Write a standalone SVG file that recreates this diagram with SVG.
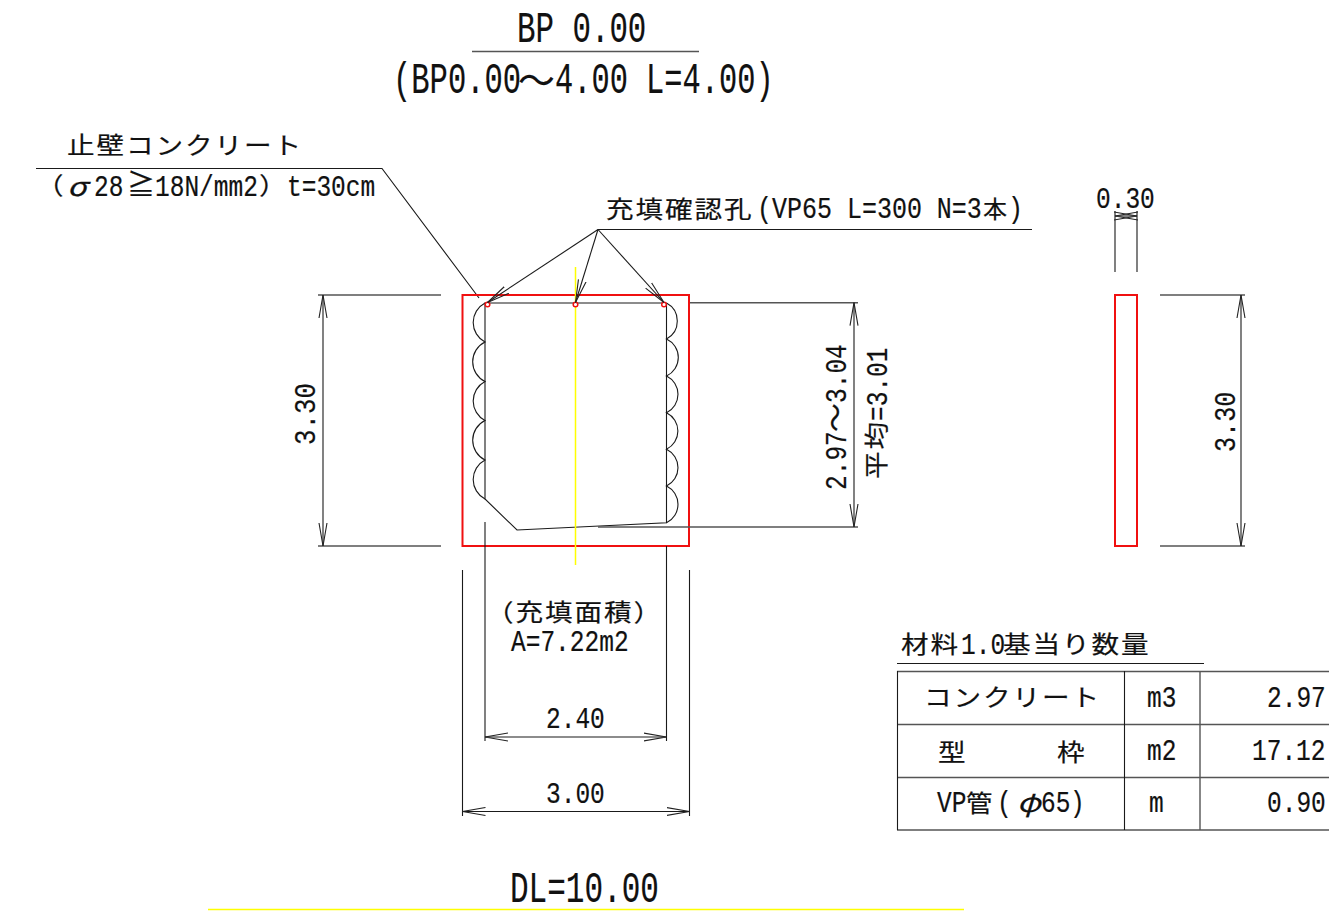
<svg xmlns="http://www.w3.org/2000/svg" width="1329" height="916" viewBox="0 0 1329 916">
<style>
text{fill:#111;stroke:#111;stroke-width:.2}
.s,.b{font-family:"Liberation Mono",monospace}
.s{font-size:30px}.b{font-size:44px}
.j{font-family:"Noto Sans CJK JP","Noto Sans CJK SC",sans-serif;font-size:24px;letter-spacing:1.65px}
.l{stroke:#1a1a1a;stroke-width:1.1;fill:none}
.g{stroke:#555;stroke-width:1.4;fill:none}
.r{stroke:#f01010;stroke-width:2;fill:none}
.c{stroke:#f01010;stroke-width:1.5;fill:#fff}
.y{stroke:#ffff00;stroke-width:1.5;fill:none}
</style>
<defs>
<marker id="a" markerUnits="userSpaceOnUse" markerWidth="26" markerHeight="10" refX="23" refY="5" orient="auto-start-reverse"><path d="M0,1 L23,5 L0,9" fill="none" stroke="#222" stroke-width="1.1"/></marker>
</defs>
<g id="title">
<text class="b" transform="translate(517 42) scale(.7 1)">BP 0.00</text>
<path class="g" d="M472 51.500H699"/>
<text class="b" transform="translate(393 93) scale(.693 1)">(BP0.00</text>
<text class="j" style="font-size:38px" transform="translate(518 94) scale(.97 1)">～</text>
<text class="b" transform="translate(555 93) scale(.69 1)">4.00 L=4.00)</text>
</g>
<g id="wall-note">
<text class="j" transform="translate(67 154) scale(1.15 1)">止壁コンクリート</text>
<path class="l" d="M36 168.500H382L479 298"/>
<text class="j" transform="translate(36 194) scale(1.15 1)">（</text>
<text class="j" font-style="italic" style="font-size:26px" transform="translate(67 196) scale(1.25 1)">σ</text>
<text class="s" transform="translate(94 196) scale(.817 1)">28</text>
<text class="j" style="font-size:28px" transform="translate(127 195)">≧</text>
<text class="s" transform="translate(155 196) scale(.817 1)">18N/mm2</text>
<text class="j" transform="translate(259 194) scale(1.15 1)">）</text>
<text class="s" transform="translate(287 196) scale(.817 1)">t=30cm</text>
</g>
<g id="hole-note">
<text class="j" transform="translate(606 218) scale(1.15 1)">充填確認孔</text>
<text class="s" transform="translate(757 218) scale(.833 1)">(VP65 L=300 N=3</text>
<text class="j" style="letter-spacing:0" transform="translate(983 218)">本</text>
<text class="s" transform="translate(1008 218) scale(.833 1)">)</text>
</g>
<g id="front-view">
<rect class="r" x="462.500" y="295" width="226.500" height="251"/>
<path class="l" d="M666.500 303H485V499L517 530L666.500 522.700V303"/>
<path class="l" d="M485 303A22 22 0 0 0 485 342A22 22 0 0 0 485 381.500A22 22 0 0 0 485 420.500A22 22 0 0 0 485 460A22 22 0 0 0 485 499"/>
<path class="l" d="M666.500 303A20.400 20.400 0 0 1 666.500 339A20.400 20.400 0 0 1 666.500 376A20.400 20.400 0 0 1 666.500 412.700A20.400 20.400 0 0 1 666.500 449.300A20.400 20.400 0 0 1 666.500 486A20.400 20.400 0 0 1 666.500 522.700"/>
<path class="y" d="M575.500 267V565"/>
<circle class="c" cx="487.500" cy="304.500" r="2.300"/>
<circle class="c" cx="575.500" cy="304.500" r="2.300"/>
<circle class="c" cx="664" cy="304.500" r="2.300"/>
</g>
<g id="side-view">
<rect class="r" x="1115" y="295" width="22" height="251"/>
</g>
<g id="connectors">
<path class="l" d="M1032 229.500H598"/>
<path class="l" d="M598 229.500L487.500 302.500" marker-end="url(#a)"/>
<path class="l" d="M598 229.500L575.500 302.500" marker-end="url(#a)"/>
<path class="l" d="M598 229.500L664 302.500" marker-end="url(#a)"/>
<path class="g" d="M318 295H441M318 546H441"/>
<path class="l" d="M323 295V546" marker-start="url(#a)" marker-end="url(#a)"/>
<path class="g" d="M1160 295H1245M1160 546H1245"/>
<path class="l" d="M1241 295V546" marker-start="url(#a)" marker-end="url(#a)"/>
<path class="g" d="M690 302.700H858M598 527H858"/>
<path class="l" d="M854 302.700V527" marker-start="url(#a)" marker-end="url(#a)"/>
<path class="l" d="M485 522V741M666.500 546V741"/>
<path class="l" d="M485 737H666.500" marker-start="url(#a)" marker-end="url(#a)"/>
<path class="l" d="M462.500 570V816M689.500 570V816"/>
<path class="l" d="M462.500 811.500H689.500" marker-start="url(#a)" marker-end="url(#a)"/>
<path class="l" d="M1115 272V211M1137 272V211"/>
<path class="l" d="M1115 216H1137" marker-start="url(#a)" marker-end="url(#a)"/>
</g>
<g id="dimensions">
<text class="s" transform="translate(1096 208) scale(.817 1)">0.30</text>
<text class="s" transform="translate(315 445) rotate(-90) scale(.86 1)">3.30</text>
<text class="s" transform="translate(1235 452) rotate(-90) scale(.84 1)">3.30</text>
<text class="s" transform="translate(846 490) rotate(-90) scale(.817 1)">2.97</text>
<text class="j" style="font-size:28px" transform="translate(846 432) rotate(-90) scale(1.03 1)">～</text>
<text class="s" transform="translate(846 403) rotate(-90) scale(.817 1)">3.04</text>
<text class="j" transform="translate(885 479) rotate(-90) scale(1.15 1)">平均</text>
<text class="s" transform="translate(887 421) rotate(-90) scale(.817 1)">=3.01</text>
<text class="s" transform="translate(546 728) scale(.817 1)">2.40</text>
<text class="s" transform="translate(546 803) scale(.817 1)">3.00</text>
</g>
<g id="area-note">
<text class="j" transform="translate(486 621) scale(1.15 1)">（充填面積）</text>
<text class="s" transform="translate(511 651) scale(.817 1)">A=7.22m2</text>
</g>
<g id="table">
<text class="j" transform="translate(901 653) scale(1.15 1)">材料</text>
<text class="s" transform="translate(961 654) scale(.817 1)">1.0</text>
<text class="j" transform="translate(1003 653) scale(1.15 1)">基当り数量</text>
<path class="l" d="M897 663.500H1204"/>
<path class="g" d="M897 671.500H1329M897 724.500H1329M897 777.500H1329M897 830H1329M1200 671V830"/>
<path class="l" d="M897.500 671V830M1124.500 671V830"/>
<text class="j" transform="translate(924 706) scale(1.15 1)">コンクリート</text>
<text class="s" transform="translate(1147 707) scale(.817 1)">m3</text>
<text class="s" transform="translate(1267 707) scale(.817 1)">2.97</text>
<text class="j" transform="translate(938 761) scale(1.15 1)">型</text>
<text class="j" transform="translate(1057 761) scale(1.15 1)">枠</text>
<text class="s" transform="translate(1147 760) scale(.817 1)">m2</text>
<text class="s" transform="translate(1252 760) scale(.817 1)">17.12</text>
<text class="s" transform="translate(937 812) scale(.817 1)">VP</text>
<text class="j" style="letter-spacing:0" transform="translate(966 812) scale(1.1 1)">管</text>
<text class="s" transform="translate(997 812) scale(.817 1)">(</text>
<text class="j" font-style="italic" style="font-size:26px;letter-spacing:0" transform="translate(1017 812) scale(1.2 1)">φ</text>
<text class="s" transform="translate(1041 812) scale(.817 1)">65</text>
<text class="s" transform="translate(1070 812) scale(.817 1)">)</text>
<text class="s" transform="translate(1149 812) scale(.817 1)">m</text>
<text class="s" transform="translate(1267 812) scale(.817 1)">0.90</text>
</g>
<g id="datum">
<text class="b" transform="translate(510 902) scale(.705 1)">DL=10.00</text>
<path class="y" d="M208 909.500H964"/>
</g>
</svg>
